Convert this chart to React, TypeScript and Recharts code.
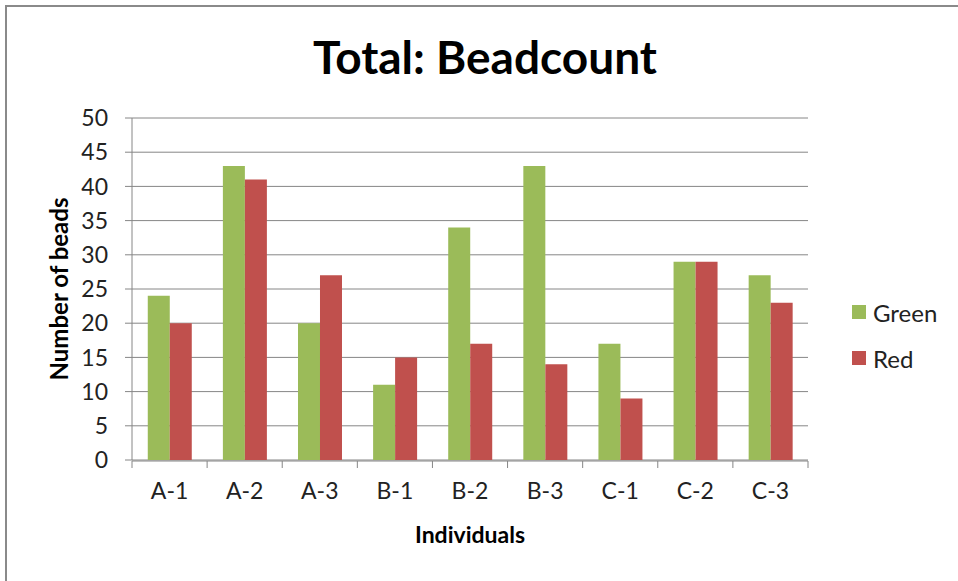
import { BarChart, Bar, XAxis, YAxis, CartesianGrid, Legend } from "recharts";

const individuals = ["A-1", "A-2", "A-3", "B-1", "B-2", "B-3", "C-1", "C-2", "C-3"];
const greenCounts = [24, 43, 20, 11, 34, 43, 17, 29, 27];
const redCounts = [20, 41, 27, 15, 17, 14, 9, 29, 23];
const yTicks = [0, 5, 10, 15, 20, 25, 30, 35, 40, 45, 50];
const categoryEdges = [0, 1, 2, 3, 4, 5, 6, 7, 8, 9];

// slot = centre of each category on a 0..9 number line, used only for the boundary tick marks
const data = individuals.map((name, i) => ({
  name,
  slot: i + 0.5,
  green: greenCounts[i],
  red: redCounts[i],
}));

const FONT = "Lato, 'Open Sans', sans-serif";
const AXIS_GRAY = "#868686";

function YTitle({ viewBox }: any) {
  const x = viewBox.x + 58;
  const y = viewBox.y + viewBox.height / 2;
  return (
    <text
      x={x}
      y={y}
      transform={`rotate(-90, ${x}, ${y})`}
      textAnchor="middle"
      dominantBaseline="central"
      fontFamily={FONT}
      fontWeight="bold"
      fontSize={24}
      fill="#000"
    >
      Number of beads
    </text>
  );
}

function XTitle({ viewBox }: any) {
  const x = viewBox.x + viewBox.width / 2;
  const y = viewBox.y + 74;
  return (
    <text
      x={x}
      y={y}
      textAnchor="middle"
      dominantBaseline="central"
      fontFamily={FONT}
      fontWeight="bold"
      fontSize={23}
      fill="#000"
    >
      Individuals
    </text>
  );
}

function LegendBox({ payload }: any) {
  return (
    <div style={{ fontFamily: FONT, fontSize: 24, color: "#222" }}>
      {(payload ?? []).map((entry: any) => (
        <div
          key={entry.value}
          style={{ display: "flex", alignItems: "center", height: 46 }}
        >
          <span
            style={{
              display: "inline-block",
              width: 14,
              height: 14,
              background: entry.color,
              marginRight: 7,
            }}
          />
          {entry.value}
        </div>
      ))}
    </div>
  );
}

export default function App() {
  return (
    <div
      style={{
        position: "absolute",
        left: 0,
        top: 0,
        width: 958,
        height: 581,
        background: "#fff",
      }}
    >
      <div
        style={{
          position: "absolute",
          left: 5,
          top: 5,
          width: 953,
          height: 576,
          borderLeft: "2px solid #8a8a8a",
          borderTop: "2px solid #8a8a8a",
        }}
      />
      <div
        style={{
          position: "absolute",
          left: 0,
          top: 29,
          width: 958,
          paddingLeft: 12,
          boxSizing: "border-box",
          textAlign: "center",
          fontFamily: FONT,
          fontWeight: "bold",
          fontSize: 46,
          lineHeight: "56px",
          color: "#000",
        }}
      >
        Total: Beadcount
      </div>
      <BarChart
        width={958}
        height={581}
        data={data}
        margin={{ top: 118, right: 40, bottom: 119, left: 0 }}
        barCategoryGap="21%"
        barGap={0}
        style={{ position: "absolute", left: 0, top: 0 }}
      >
        <CartesianGrid vertical={false} stroke={AXIS_GRAY} strokeWidth={1} />
        <XAxis
          xAxisId="edges"
          dataKey="slot"
          type="number"
          domain={[0, 9]}
          ticks={categoryEdges}
          interval={0}
          height={1}
          tickSize={7}
          tickFormatter={() => ""}
          stroke={AXIS_GRAY}
          allowDataOverflow
        />
        <XAxis
          dataKey="name"
          height={1}
          tickLine={false}
          axisLine={false}
          tickSize={0}
          tickMargin={23}
          tick={{ fill: "#222", fontSize: 23, fontFamily: FONT }}
          label={<XTitle />}
        />
        <YAxis
          width={132}
          domain={[0, 50]}
          ticks={yTicks}
          interval={0}
          tickSize={7}
          tickMargin={17}
          stroke={AXIS_GRAY}
          tick={{ fill: "#222", fontSize: 23, fontFamily: FONT }}
          label={<YTitle />}
        />
        <Legend
          layout="vertical"
          align="right"
          verticalAlign="middle"
          content={<LegendBox />}
          wrapperStyle={{ width: 110, left: 852, top: 289 }}
        />
        <Bar dataKey="green" name="Green" fill="#9BBB59" isAnimationActive={false} />
        <Bar dataKey="red" name="Red" fill="#C0504D" isAnimationActive={false} />
      </BarChart>
    </div>
  );
}
